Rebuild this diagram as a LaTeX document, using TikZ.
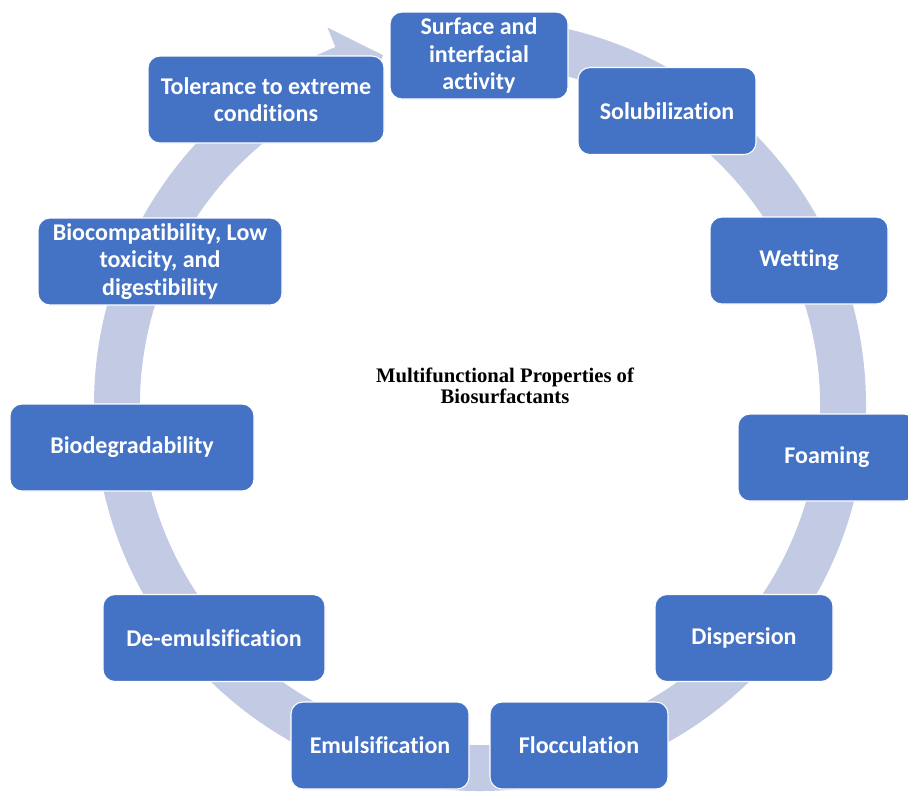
\documentclass[tikz,border=0pt]{standalone}
\usepackage{fontspec}
\usepackage{xcolor}
\newfontfamily\boxfont{Carlito}[Ligatures={NoCommon}]
\newfontfamily\headfont{Liberation Serif}
\definecolor{propblue}{RGB}{68,114,196}
\definecolor{ringgray}{RGB}{194,203,227}

\tikzset{
  prop/.style={draw=white, line width=0.8pt, fill=propblue, rounded corners=9pt,
    text=white, font=\boxfont\bfseries\fontsize{18}{20.5}\selectfont,
    align=center, inner sep=2pt, minimum height=65.25pt, minimum width=#1},
  prop/.default=133.5pt
}

\begin{document}
\begin{tikzpicture}[x=0.75pt,y=0.75pt]
  \clip (0,0) rectangle (908,-794);
  \fill[white] (0,0) rectangle (908,-794);
  % circular arrow behind the boxes
  \begin{scope}[shift={(480,-405)}]
    \fill[ringgray] (95:386) arc[start angle=95, end angle=-248, radius=386]
      -- (112:407) -- (105.5:363) -- (112:319) -- (112:340)
      arc[start angle=-248, end angle=95, radius=340] -- cycle;
  \end{scope}
  % property boxes, clockwise from the top
  \foreach \nm/\x/\y/\w/\txt in {
      surface/479/55.5/133.5pt/{Surface and\\interfacial\\activity},
      solub/667/111/133.5pt/{Solubilization},
      wetting/799/260.5/133.5pt/{Wetting},
      foaming/827/457.5/133.5pt/{Foaming},
      dispersion/744/638/133.5pt/{Dispersion},
      flocc/579/745.5/133.5pt/{Flocculation},
      emuls/380/745.5/133.5pt/{Emulsification},
      deemuls/214/638/166.5pt/{De-emulsification},
      biodeg/132/447.5/183pt/{Biodegradability},
      biocomp/160/261.5/183pt/{Biocompatibility, Low\\toxicity, and\\digestibility},
      tolerance/266/99.5/177pt/{Tolerance to extreme\\conditions}} {
    \node[prop=\w] (\nm) at (\x,-\y) {\txt};
  }
  \node[font=\headfont\bfseries\fontsize{15.5}{16}\selectfont, align=center]
    (title) at (505,-386) {Multifunctional Properties of\\Biosurfactants};
\end{tikzpicture}
\end{document}
